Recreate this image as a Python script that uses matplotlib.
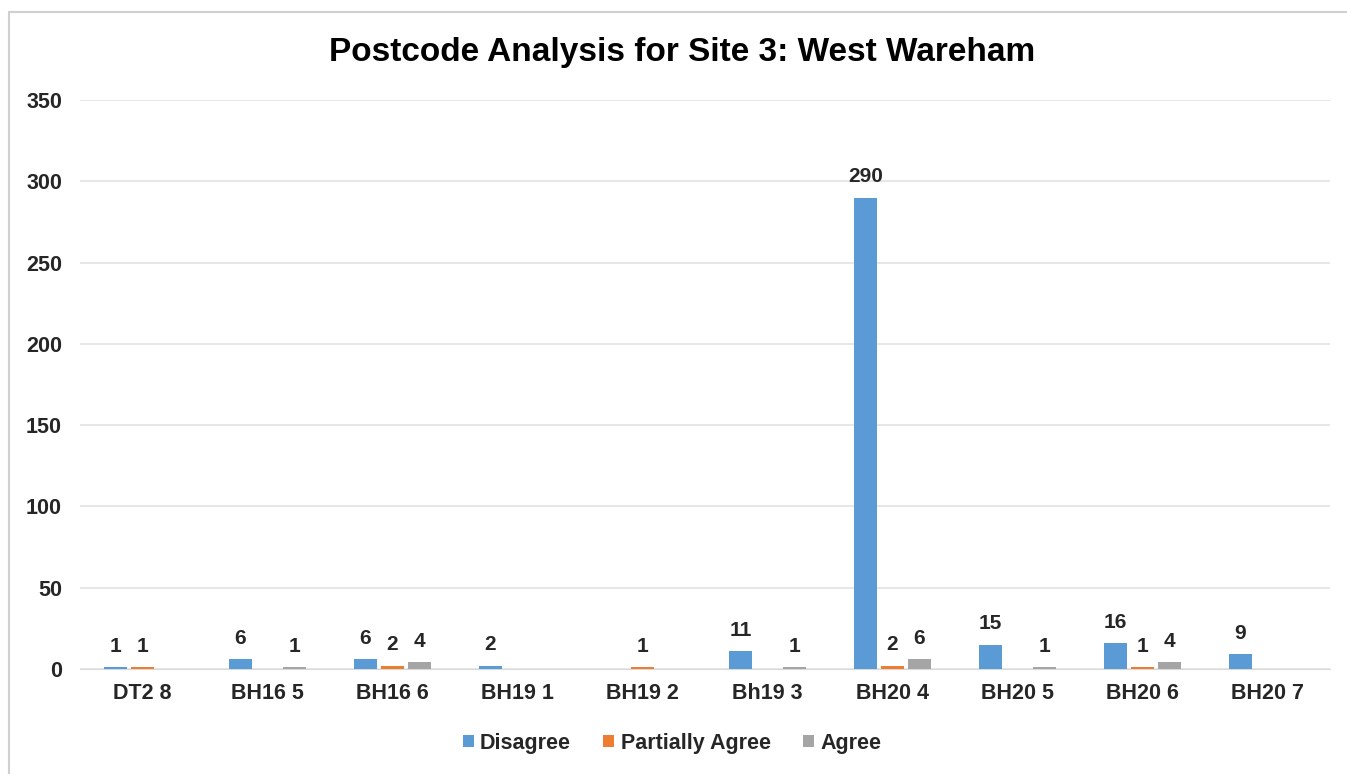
import numpy as np
import matplotlib.pyplot as plt
from matplotlib.patches import Rectangle

plt.rcParams['font.family'] = ['Liberation Sans', 'DejaVu Sans']

categories = ['DT2 8', 'BH16 5', 'BH16 6', 'BH19 1', 'BH19 2',
              'Bh19 3', 'BH20 4', 'BH20 5', 'BH20 6', 'BH20 7']
disagree = [1, 6, 6, 2, 0, 11, 290, 15, 16, 9]
partially = [1, 0, 2, 0, 1, 0, 2, 0, 1, 0]
agree = [0, 1, 4, 0, 0, 1, 6, 1, 4, 0]

series = [('Disagree', disagree, '#5B9BD5'),
          ('Partially Agree', partially, '#ED7D31'),
          ('Agree', agree, '#A5A5A5')]

txt = '#262626'
fig = plt.figure(figsize=(13.47, 7.74), dpi=100)
ax = fig.add_axes([80/1347, 1-669/774, 1250/1347, 569/774])

# chart border (only top and left show in the crop)
fig.patches.append(Rectangle((9/1347, -0.05), 1.0, 1.05-12/774, transform=fig.transFigure,
                             fill=False, edgecolor='#D0D0D0', lw=1.5))

x = np.arange(len(categories))
off = 0.216
w = 0.18
for i, (name, vals, col) in enumerate(series):
    pos = x + (i - 1) * off
    ax.bar(pos, vals, width=w, color=col, label=name, zorder=3)
    for p, v in zip(pos, vals):
        if v > 0:
            ax.text(p, v + 7, str(v), ha='center', va='bottom', fontsize=15,
                    fontweight='bold', color=txt)

ax.set_xlim(-0.5, len(categories) - 0.5)
ax.set_ylim(0, 350)
ax.set_yticks(range(0, 351, 50))
ax.yaxis.grid(True, color='#E3E3E3', lw=1.2, zorder=0)
ax.set_xticks(x)
ax.set_xticklabels(categories)
for s in ['top', 'right', 'left']:
    ax.spines[s].set_visible(False)
ax.spines['bottom'].set_color('#D9D9D9')
ax.tick_params(length=0)
ax.tick_params(axis='y', pad=13)
ax.tick_params(axis='x', pad=10)
for lbl in ax.get_xticklabels() + ax.get_yticklabels():
    lbl.set_fontsize(15.5)
    lbl.set_fontweight('bold')
    lbl.set_color(txt)

fig.suptitle('Postcode Analysis for Site 3: West Wareham', x=682/1347, y=1-53/774,
             va='center', fontsize=24, fontweight='bold', color='black')

leg = fig.legend(loc='center', bbox_to_anchor=(672/1347, 1-743/774), ncol=3,
                 frameon=False, handlelength=0.5, handleheight=0.5,
                 handletextpad=0.3, columnspacing=1.5,
                 prop={'size': 15.5, 'weight': 'bold'})
for t in leg.get_texts():
    t.set_color(txt)

fig.savefig('out.png', dpi=100)
